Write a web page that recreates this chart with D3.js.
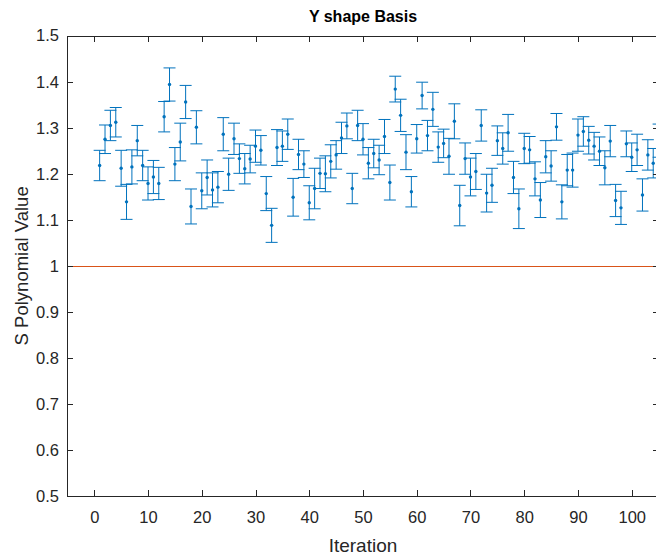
<!DOCTYPE html>
<html>
<head>
<meta charset="utf-8">
<script src="https://cdn.jsdelivr.net/npm/d3@7"></script>
<style>
  html, body { margin: 0; padding: 0; background: #fff; }
  svg { display: block; font-family: "Liberation Sans", Arial, Helvetica, sans-serif; }
</style>
</head>
<body>
<svg id="chart" width="656" height="556"></svg>
<script>
// Iteration index of each sample
const iterations = d3.range(1, 106);

// Mean S polynomial value at each iteration
const meanValues = [
  1.218, 1.275, 1.305, 1.312, 1.212, 1.139, 1.215, 1.272, 1.218, 1.179,
  1.193, 1.179, 1.324, 1.394, 1.221, 1.269, 1.356, 1.129, 1.301, 1.163,
  1.192, 1.165, 1.171, 1.286, 1.199, 1.276, 1.233, 1.211, 1.232, 1.260,
  1.251, 1.157, 1.088, 1.257, 1.260, 1.286, 1.149, 1.242, 1.221, 1.137,
  1.168, 1.201, 1.200, 1.227, 1.241, 1.278, 1.304, 1.168, 1.305, 1.275,
  1.223, 1.244, 1.230, 1.281, 1.181, 1.384, 1.327, 1.247, 1.161, 1.276,
  1.370, 1.283, 1.340, 1.258, 1.266, 1.238, 1.314, 1.131, 1.233, 1.193,
  1.205, 1.305, 1.158, 1.175, 1.272, 1.255, 1.289, 1.192, 1.124, 1.255,
  1.252, 1.189, 1.143, 1.237, 1.217, 1.302, 1.139, 1.208, 1.208, 1.284,
  1.292, 1.273, 1.260, 1.249, 1.213, 1.271, 1.142, 1.126, 1.265, 1.236,
  1.252, 1.154, 1.241, 1.223, 1.272
];

// Half-width of each error bar
const errValues = [
  0.033, 0.031, 0.033, 0.032, 0.039, 0.038, 0.037, 0.033, 0.033, 0.036,
  0.036, 0.035, 0.033, 0.036, 0.036, 0.041, 0.036, 0.038, 0.036, 0.039,
  0.038, 0.037, 0.034, 0.036, 0.035, 0.034, 0.032, 0.033, 0.030, 0.035,
  0.032, 0.037, 0.037, 0.039, 0.033, 0.033, 0.041, 0.033, 0.029, 0.037,
  0.044, 0.033, 0.039, 0.036, 0.031, 0.034, 0.028, 0.033, 0.033, 0.034,
  0.034, 0.031, 0.032, 0.037, 0.038, 0.028, 0.035, 0.038, 0.033, 0.031,
  0.029, 0.033, 0.037, 0.033, 0.031, 0.039, 0.038, 0.044, 0.034, 0.041,
  0.039, 0.034, 0.041, 0.037, 0.032, 0.034, 0.040, 0.035, 0.043, 0.033,
  0.029, 0.037, 0.038, 0.035, 0.033, 0.029, 0.037, 0.034, 0.037, 0.035,
  0.032, 0.030, 0.030, 0.031, 0.037, 0.034, 0.035, 0.036, 0.028, 0.031,
  0.034, 0.035, 0.033, 0.032, 0.036
];

// Reference level drawn as a horizontal line
const referenceLevel = 1;

// Axis ticks
const xTicks = [0, 10, 20, 30, 40, 50, 60, 70, 80, 90, 100];
const xTickLabels = ["0", "10", "20", "30", "40", "50", "60", "70", "80", "90", "100"];
const yTicks = [0.5, 0.6, 0.7, 0.8, 0.9, 1.0, 1.1, 1.2, 1.3, 1.4, 1.5];
const yTickLabels = ["0.5", "0.6", "0.7", "0.8", "0.9", "1", "1.1", "1.2", "1.3", "1.4", "1.5"];

const xDomain = [-5, 105];
const yDomain = [0.5, 1.5];

const plot = { left: 67.4, right: 658.6, top: 35.7, bottom: 496 };
const axisColor = "#262626";
const barColor = "#0072BD";
const refColor = "#D95319";

const svg = d3.select("#chart");

const x = d3.scaleLinear().domain(xDomain).range([plot.left, plot.right]);
const y = d3.scaleLinear().domain(yDomain).range([plot.bottom, plot.top]);

const series = iterations.map((it, i) => ({ it, v: meanValues[i], e: errValues[i] }));

// Reference line, snapped to the pixel grid so it stays one pixel thick
const refY = Math.round(y(referenceLevel)) + 0.5;
svg.append("line")
  .attr("x1", x(xDomain[0])).attr("x2", x(xDomain[1]))
  .attr("y1", refY).attr("y2", refY)
  .attr("stroke", refColor).attr("stroke-width", 1);

// Error bars
const capHalf = 6;
const bars = svg.append("g").attr("stroke", barColor).attr("stroke-width", 1).attr("fill", "none");
const g = bars.selectAll("g").data(series).join("g");
g.append("line")
  .attr("x1", d => x(d.it)).attr("x2", d => x(d.it))
  .attr("y1", d => y(d.v - d.e)).attr("y2", d => y(d.v + d.e));
g.append("line")
  .attr("x1", d => x(d.it) - capHalf).attr("x2", d => x(d.it) + capHalf)
  .attr("y1", d => y(d.v + d.e)).attr("y2", d => y(d.v + d.e));
g.append("line")
  .attr("x1", d => x(d.it) - capHalf).attr("x2", d => x(d.it) + capHalf)
  .attr("y1", d => y(d.v - d.e)).attr("y2", d => y(d.v - d.e));

// Point markers
svg.append("g").selectAll("circle").data(series).join("circle")
  .attr("cx", d => x(d.it)).attr("cy", d => y(d.v))
  .attr("r", 1.7).attr("fill", barColor);

// Axes (ticks pointing inward, box on all four sides)
const tickLen = 6;
const fontSize = 16.5;

function styleAxis(sel) {
  sel.attr("shape-rendering", "crispEdges");
  sel.select(".domain").attr("stroke", axisColor).attr("stroke-width", 1);
  sel.selectAll(".tick line").attr("stroke", axisColor).attr("stroke-width", 1);
  sel.selectAll(".tick text").attr("fill", axisColor).style("font-size", fontSize + "px");
  sel.attr("font-family", null).attr("font-size", null);
}

svg.append("g")
  .attr("transform", `translate(0,${plot.bottom})`)
  .call(d3.axisBottom(x).tickValues(xTicks).tickSizeInner(-tickLen).tickSizeOuter(0)
    .tickPadding(15.5).tickFormat((d, i) => xTickLabels[i]))
  .call(styleAxis);

svg.append("g")
  .attr("transform", `translate(0,${plot.top})`)
  .call(d3.axisTop(x).tickValues(xTicks).tickSizeInner(-tickLen).tickSizeOuter(0).tickFormat(""))
  .call(styleAxis);

svg.append("g")
  .attr("transform", `translate(${plot.left},0)`)
  .call(d3.axisLeft(y).tickValues(yTicks).tickSizeInner(-tickLen).tickSizeOuter(0)
    .tickPadding(8.5).tickFormat((d, i) => yTickLabels[i]))
  .call(styleAxis);

svg.append("g")
  .attr("transform", `translate(${plot.right},0)`)
  .call(d3.axisRight(y).tickValues(yTicks).tickSizeInner(-tickLen).tickSizeOuter(0).tickFormat(""))
  .call(styleAxis);

// Title and axis labels
svg.append("text")
  .attr("x", (plot.left + plot.right) / 2).attr("y", 21.5)
  .attr("text-anchor", "middle").attr("fill", "#000")
  .style("font-size", "16px").style("font-weight", "bold")
  .text("Y shape Basis");

svg.append("text")
  .attr("x", (plot.left + plot.right) / 2).attr("y", 551.5)
  .attr("text-anchor", "middle").attr("fill", axisColor)
  .style("font-size", "19px")
  .text("Iteration");

svg.append("text")
  .attr("transform", `translate(28,${(plot.top + plot.bottom) / 2}) rotate(-90)`)
  .attr("text-anchor", "middle").attr("fill", axisColor)
  .style("font-size", "18.5px")
  .text("S Polynomial Value");
</script>
</body>
</html>
